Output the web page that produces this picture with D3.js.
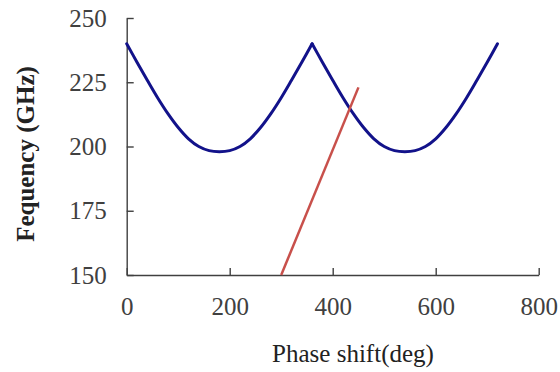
<!DOCTYPE html>
<html>
<head>
<meta charset="utf-8">
<script src="https://cdn.jsdelivr.net/npm/d3@7"></script>
<style>
  body { margin: 0; background: #fff; }
  svg { display: block; }
  text { font-family: "Liberation Serif", "Times New Roman", serif; }
</style>
</head>
<body>
<svg id="chart" width="560" height="372"></svg>
<script>
// dispersion curve (deg, GHz)
var phase = [0, 20, 40, 60, 80, 100, 120, 140, 160, 180, 200, 220, 240, 260, 280, 300, 320, 340, 360,
             380, 400, 420, 440, 460, 480, 500, 520, 540, 560, 580, 600, 620, 640, 660, 680, 700, 720];
var freq = [240, 232.8, 225.8, 219, 212.8, 207.4, 203, 200, 198.4, 198, 198.4, 200, 203, 207.4, 212.8, 219, 225.8, 232.8, 240,
            232.8, 225.8, 219, 212.8, 207.4, 203, 200, 198.4, 198, 198.4, 200, 203, 207.4, 212.8, 219, 225.8, 232.8, 240];
// light line
var linePhase = [300, 450];
var lineFreq = [150, 223];

var xTicks = [0, 200, 400, 600, 800];
var yTicks = [150, 175, 200, 225, 250];

var svg = d3.select('#chart');
var font = '"Liberation Serif", "Times New Roman", serif';

var x = d3.scaleLinear().domain([0, 800]).range([126.7, 538.7]);
var y = d3.scaleLinear().domain([150, 250]).range([275, 18]);

// axes, ticks point inwards
var xAxis = svg.append('g')
    .attr('transform', 'translate(0,' + y(150) + ')')
    .call(d3.axisBottom(x).tickValues(xTicks).tickSizeInner(-7).tickSizeOuter(0).tickPadding(22));
var yAxis = svg.append('g')
    .attr('transform', 'translate(' + x(0) + ',0)')
    .call(d3.axisLeft(y).tickValues(yTicks).tickSizeInner(-7).tickSizeOuter(0).tickPadding(20));

[xAxis, yAxis].forEach(function(g) {
    g.attr('font-family', font).attr('font-size', 25);
    g.select('.domain').attr('stroke', '#404040').attr('stroke-width', 1.4);
    g.selectAll('.tick line').attr('stroke', '#404040').attr('stroke-width', 1.4);
    g.selectAll('.tick text').attr('fill', '#404040');
});

// blue curve: draw each arch on its own so the cusps stay sharp
var pts = phase.map(function(p, i) { return [p, freq[i]]; });
var arches = [pts.filter(function(d) { return d[0] <= 360; }),
              pts.filter(function(d) { return d[0] >= 360; })];
var gen = d3.line()
    .x(function(d) { return x(d[0]); })
    .y(function(d) { return y(d[1]); })
    .curve(d3.curveCatmullRom);
svg.selectAll('path.arch')
    .data(arches)
    .enter().append('path')
    .attr('class', 'arch')
    .attr('d', gen)
    .attr('fill', 'none')
    .attr('stroke', '#12128a')
    .attr('stroke-width', 3)
    .attr('stroke-linejoin', 'round')
    .attr('stroke-linecap', 'round');

var lpts = linePhase.map(function(p, i) { return [p, lineFreq[i]]; });
svg.append('path')
    .datum(lpts)
    .attr('d', d3.line().x(function(d) { return x(d[0]); }).y(function(d) { return y(d[1]); }))
    .attr('fill', 'none')
    .attr('stroke', '#c8504b')
    .attr('stroke-width', 2.5);

// axis titles
svg.append('text')
    .attr('x', 353)
    .attr('y', 362)
    .attr('text-anchor', 'middle')
    .attr('font-family', font)
    .attr('font-size', 25)
    .attr('fill', '#222')
    .text('Phase shift(deg)');

svg.append('text')
    .attr('transform', 'translate(34,154) rotate(-90)')
    .attr('text-anchor', 'middle')
    .attr('font-family', font)
    .attr('font-size', 25)
    .attr('font-weight', 'bold')
    .attr('fill', '#222')
    .text('Fequency (GHz)');
</script>
</body>
</html>
